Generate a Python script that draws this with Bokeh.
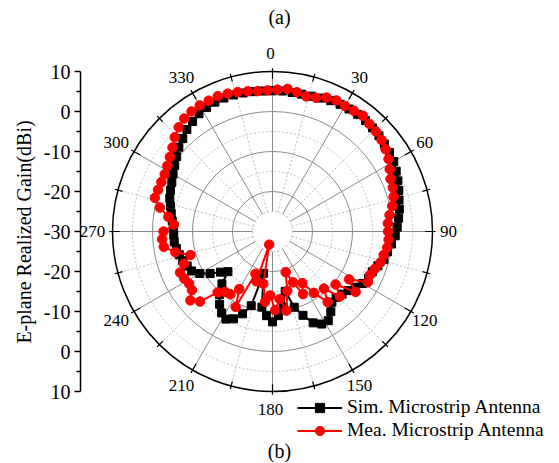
import numpy as np
from bokeh.plotting import figure
from bokeh.models import Range1d, LinearAxis, FixedTicker, Legend, LegendItem, Label
from bokeh.embed import file_html
from bokeh.resources import INLINE
from bokeh.core.properties import value

# ---------------- data ----------------
sim_angle = list(range(0, 360, 4))
sim_gain = [5.2, 5.2, 5.1, 5.1, 5.2, 5.5, 5.8, 6.0, 6.1, 6.2,
            6.2, 6.0, 5.8, 5.5, 5.3, 5.0, 4.4, 3.8, 3.2, 2.6,
            2.2, 1.7, 1.2, 0.7, -0.1, -0.8, -1.3, -2.3, -3.1, -3.3,
            -4.0, -5.1, -6.0, -6.6, -7.1, -6.9, -5.2, -3.7, -3.8, -5.0,
            -7.7, -10.3, -14.7, -10.9, -8.9, -7.4, -8.9, -10.9, -19.3, -10.7,
            -8.1, -6.1, -5.2, -6.0, -7.5, -9.4, -11.8, -15.0, -13.5, -11.2,
            -9.0, -7.5, -7.0, -6.4, -6.0, -5.6, -5.3, -5.3, -5.2, -4.8,
            -4.3, -3.7, -3.0, -2.5, -2.0, -1.3, -0.5, 0.4, 1.5, 2.3,
            3.3, 4.0, 4.7, 5.1, 5.4, 5.5, 5.5, 5.4, 5.3, 5.2]

mea_angle = list(range(2, 360, 4))
mea_gain = [5.45, 5.85, 5.35, 4.8, 5.15, 6.1, 6.45, 6.25, 6.4, 6.7,
            6.2, 5.95, 5.6, 4.95, 4.2, 3.2, 2.3, 2.0, 1.5, 0.6,
            -0.45, -1.1, -1.1, -0.9, -1.05, -1.6, -1.9, -2.75, -3.3, -3.0,
            -7.4, -4.3, -9.4, -6.6, -10.8, -7.6, -11.5, -15.1, -12.6, -16.3,
            -19.3, -14.7, -9.9, -13.0, -10.3, -14.0, -12.3, -16.75, -26.6, -16.9,
            -18.6, -9.0, -13.4, -11.1, -10.8, -9.5, -4.8, -3.2, -5.1, -5.4,
            -5.0, -4.7, -6.4, -8.65, -5.15, -2.55, -2.35, -2.75, -5.3, -3.7,
            -1.2, 0.6, 0.45, 0.4, 0.5, 1.0, 1.7, 2.65, 3.95, 5.05,
            5.85, 6.2, 6.4, 6.4, 6.5, 6.25, 5.9, 5.6, 5.3, 5.3]

r_min, r_max = -30, 10
r_solid = [-20, -10, 0]
r_dotted = [-25, -15, -5, 5]
angle_major = list(range(0, 360, 30))
angle_minor = list(range(15, 360, 30))
axis_ticks = [-40, -30, -20, -10, 0, 10, 20, 30, 40]
axis_tick_labels = ["10", "0", "-10", "-20", "-30", "-20", "-10", "0", "10"]

FONT = "Liberation Serif"


def polar(ang, gain):
    a = np.radians(np.asarray(ang, dtype=float))
    r = np.asarray(gain, dtype=float) - r_min
    return r * np.sin(a), r * np.cos(a)


p = figure(width=559, height=463, output_backend="svg", toolbar_location=None,
           x_range=Range1d(-48, 71.75), y_range=Range1d(-58, 57.75),
           min_border_left=80, min_border_right=0, min_border_top=0, min_border_bottom=0,
           x_axis_location=None, y_axis_location=None)
p.grid.visible = False
p.outline_line_color = None
p.background_fill_color = "white"

R = r_max - r_min
r_in = r_dotted[0] - r_min

# circles
for rv in r_dotted:
    p.circle(x=0, y=0, radius=rv - r_min, fill_color=None, line_color="#bdbdbd",
             line_width=1, line_dash="2 2")
for rv in r_solid:
    p.circle(x=0, y=0, radius=rv - r_min, fill_color=None, line_color="#8a8a8a", line_width=1)

# spokes
a_maj = np.radians(angle_major)
a_min = np.radians(angle_minor)
p.segment(x0=r_in * np.sin(a_min), y0=r_in * np.cos(a_min), x1=R * np.sin(a_min), y1=R * np.cos(a_min),
          line_color="#bdbdbd", line_width=1, line_dash="2 2")
p.segment(x0=r_in * np.sin(a_maj), y0=r_in * np.cos(a_maj), x1=R * np.sin(a_maj), y1=R * np.cos(a_maj),
          line_color="#8a8a8a", line_width=1)
p.circle(x=0, y=0, radius=R, fill_color=None, line_color="black", line_width=1.5)

# ticks on the outer circle
p.segment(x0=(R - 1.8) * np.sin(a_maj), y0=(R - 1.8) * np.cos(a_maj),
          x1=(R + 0.8) * np.sin(a_maj), y1=(R + 0.8) * np.cos(a_maj), line_color="black", line_width=1.2)
p.segment(x0=(R - 1.2) * np.sin(a_min), y0=(R - 1.2) * np.cos(a_min),
          x1=(R + 0.8) * np.sin(a_min), y1=(R + 0.8) * np.cos(a_min), line_color="black", line_width=1.2)

# angle labels
rl = R + 4.5
p.text(x=rl * np.sin(a_maj) - 0.5, y=rl * np.cos(a_maj), text=[str(a) for a in angle_major],
       text_align="center", text_baseline="middle", text_font=value(FONT),
       text_font_size="17px", text_color="black")

# data
sx, sy = polar(sim_angle + sim_angle[:1], sim_gain + sim_gain[:1])
mx, my = polar(mea_angle + mea_angle[:1], mea_gain + mea_gain[:1])
l1 = p.line(sx, sy, line_color="black", line_width=2)
s1 = p.scatter(sx, sy, marker="square", size=8, color="black")
l2 = p.line(mx, my, line_color="red", line_width=2)
s2 = p.scatter(mx, my, marker="circle", size=9.5, color="red")

# left radial axis
yax = LinearAxis(ticker=FixedTicker(ticks=axis_ticks,
                                    minor_ticks=[t + 5 for t in axis_ticks[:-1]]),
                 bounds=(axis_ticks[0], axis_ticks[-1]))
yax.major_label_overrides = {t: l for t, l in zip(axis_ticks, axis_tick_labels)}
yax.axis_label = "E-plane Realized Gain(dBi)"
yax.axis_label_text_font = FONT
yax.axis_label_text_font_style = "normal"
yax.axis_label_text_font_size = "20px"
yax.axis_label_text_color = "black"
yax.axis_label_standoff = 6
yax.major_label_text_font = FONT
yax.major_label_text_font_size = "20px"
yax.major_label_text_color = "black"
yax.major_label_standoff = 4
yax.major_tick_in = 0
yax.major_tick_out = 6
yax.minor_tick_in = 0
yax.minor_tick_out = 4
yax.axis_line_width = 1.5
yax.major_tick_line_width = 1.5
yax.minor_tick_line_width = 1.5
p.add_layout(yax, "left")

legend = Legend(items=[LegendItem(label="Sim. Microstrip Antenna", renderers=[l1, s1]),
                       LegendItem(label="Mea. Microstrip Antenna", renderers=[l2, s2])],
                location=(217, 21.5), orientation="vertical", border_line_color=None,
                background_fill_alpha=0, padding=0, spacing=0, margin=0,
                glyph_width=45, glyph_height=23, label_height=23, label_standoff=5,
                label_text_font=FONT, label_text_font_size="19.5px", label_text_color="black")
p.add_layout(legend)

p.add_layout(Label(x=1.75, y=53.6, text="(a)", text_align="center", text_baseline="middle",
                   text_font=FONT, text_font_size="20px", text_color="black"))
p.add_layout(Label(x=1.75, y=-54.75, text="(b)", text_align="center", text_baseline="middle",
                   text_font=FONT, text_font_size="20px", text_color="black"))

open("out.html", "w").write(file_html(p, INLINE))
